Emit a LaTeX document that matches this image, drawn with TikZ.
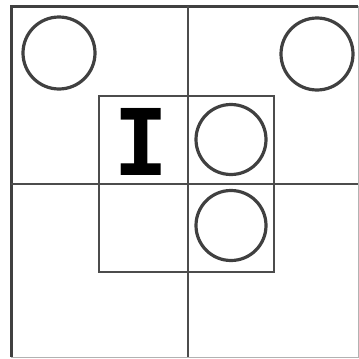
\documentclass[tikz,border=0pt]{standalone}
\usepackage{fontspec}
\newfontfamily\monofont{DejaVu Sans Mono}
\usetikzlibrary{positioning}

\begin{document}
\begin{tikzpicture}[x=1pt, y=-1pt,
	frame/.style={draw=black!75, line width=3pt},
	grid/.style={draw=black!70, line width=1.2pt},
	ring/.style={circle, draw=black!75, line width=3.2pt, inner sep=0pt, minimum size=72pt},
	glyph/.style={font=\monofont\bfseries\fontsize{92}{92}\selectfont, inner sep=0pt}
]
	\useasboundingbox (0,0) rectangle (359,359);

	% Outer frame
	\draw[draw=black!30, line width=0.8pt] (11,357) -- (358,357) -- (358,6);
	\draw[frame] (11,357) -- (11,6) -- (358,6);

	% Quadrant lines
	\draw[grid] (188,6) -- (188,357);
	\draw[grid] (11,184) -- (358,184);

	% Inner box
	\draw[grid] (99,96) rectangle (274,272);

	% Corner rings
	\node[ring] (ringTL) at (59,53) {};
	\node[ring] (ringTR) at (317,54) {};

	% Inner cells
	\node[glyph] (cursor) at (141.6,141.7) {I};
	\node[ring, minimum size=70pt] (ringA) at (231,139.5) {};
	\node[ring, minimum size=70pt] (ringB) at (231,225.5) {};
\end{tikzpicture}
\end{document}
